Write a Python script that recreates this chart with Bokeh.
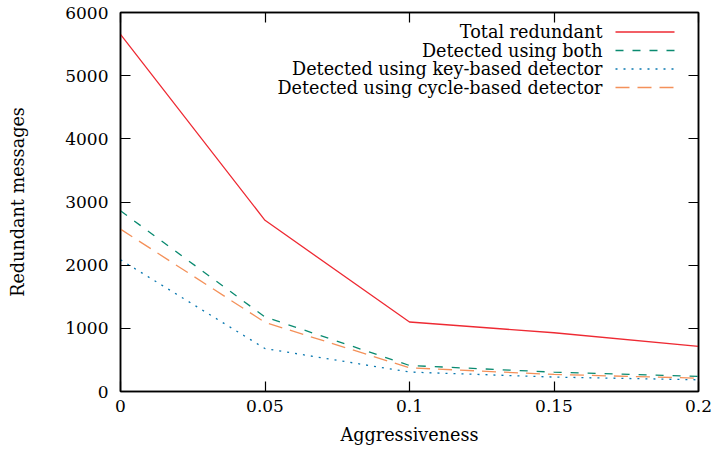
from bokeh.plotting import figure
from bokeh.models import Range1d, LinearAxis, FixedTicker
from bokeh.core.properties import value
from bokeh.embed import file_html
from bokeh.resources import INLINE

aggressiveness = [0.0, 0.05, 0.1, 0.15, 0.2]
total_redundant = [5655, 2710, 1100, 930, 715]
detected_both = [2860, 1180, 412, 306, 238]
detected_key = [2085, 680, 308, 228, 185]
detected_cycle = [2570, 1095, 375, 270, 211]

x_ticks = [0, 0.05, 0.1, 0.15, 0.2]
x_tick_labels = ["0", "0.05", "0.1", "0.15", "0.2"]
y_ticks = [0, 1000, 2000, 3000, 4000, 5000, 6000]

series_names = ["Total redundant", "Detected using both",
                "Detected using key-based detector", "Detected using cycle-based detector"]
series_colors = ["#ee2a33", "#0a8a70", "#0a78b0", "#f4915a"]
series_dash = ["solid", "8 9", "2 6", "14 8"]

FONT = "DejaVu Serif"
FS = "17px"
FS_LEG = "17.6px"

p = figure(width=715, height=450, output_backend="svg", toolbar_location=None,
           x_range=Range1d(0, 0.2), y_range=Range1d(0, 6000),
           min_border_left=120, min_border_right=17, min_border_top=12, min_border_bottom=59)
p.background_fill_color = "white"
p.border_fill_color = "white"
p.xgrid.visible = False
p.ygrid.visible = False
p.outline_line_color = "black"
p.outline_line_width = 1.5

for ax in (p.xaxis[0], p.yaxis[0]):
    ax.major_tick_in = 10
    ax.major_tick_out = 0
    ax.minor_tick_in = 0
    ax.minor_tick_out = 0
    ax.axis_line_width = 1.5
    ax.major_tick_line_width = 1.2
    ax.major_label_text_font = FONT
    ax.major_label_text_font_size = FS
    ax.major_label_text_color = "black"
    ax.axis_label_text_font = FONT
    ax.axis_label_text_font_size = FS_LEG
    ax.axis_label_text_font_style = "normal"
    ax.axis_label_text_color = "black"

p.xaxis[0].ticker = FixedTicker(ticks=x_ticks)
p.xaxis[0].major_label_overrides = {t: l for t, l in zip(x_ticks, x_tick_labels)}
p.xaxis[0].axis_label = "Aggressiveness"
p.xaxis[0].major_label_standoff = 8
p.xaxis[0].axis_label_standoff = 10
p.yaxis[0].ticker = FixedTicker(ticks=y_ticks)
p.yaxis[0].axis_label = "Redundant messages"
p.yaxis[0].major_label_standoff = 12
p.yaxis[0].axis_label_standoff = 34

top = LinearAxis(ticker=FixedTicker(ticks=x_ticks), major_label_text_font_size="0px",
                 major_tick_in=10, major_tick_out=0, minor_tick_in=0, minor_tick_out=0,
                 axis_line_width=1.5, major_tick_line_width=1.2)
right = LinearAxis(ticker=FixedTicker(ticks=y_ticks), major_label_text_font_size="0px",
                   major_tick_in=10, major_tick_out=0, minor_tick_in=0, minor_tick_out=0,
                   axis_line_width=1.5, major_tick_line_width=1.2)
top.major_label_text_color = None
right.major_label_text_color = None
p.add_layout(top, "above")
p.add_layout(right, "right")

ys = [total_redundant, detected_both, detected_key, detected_cycle]
for yv, c, d in zip(ys, series_colors, series_dash):
    p.line(aggressiveness, yv, line_color=c, line_width=1.3, line_dash=d)

# legend (manual, label on left, sample on right) in plot-fraction positions
xr = 0.2
yr = 6000.0
text_x = xr * (482 / 578)
seg_x0 = xr * (495 / 578)
seg_x1 = xr * (554 / 578)
rows_px = [19.5, 38, 56.5, 75]
for i, (name, c, d) in enumerate(zip(series_names, series_colors, series_dash)):
    yy = yr * (1 - rows_px[i] / 379)
    p.text(x=[text_x], y=[yy], text=[name], text_align="right", text_baseline="middle",
           text_font=value(FONT), text_font_size=FS_LEG, text_color="black")
    p.segment(x0=[seg_x0], y0=[yy], x1=[seg_x1], y1=[yy], line_color=c,
              line_width=1.3, line_dash=d)

open("out.html", "w").write(file_html(p, INLINE))
